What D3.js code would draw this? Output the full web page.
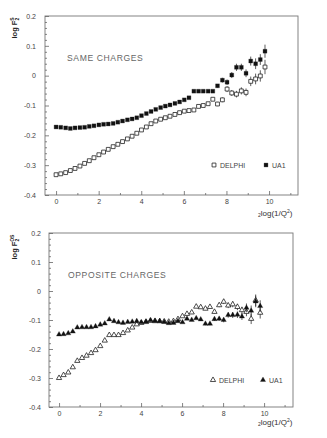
<!DOCTYPE html>
<html><head><meta charset="utf-8">
<script src="https://cdn.jsdelivr.net/npm/d3@7"></script>
<style>
body{margin:0;background:#fff;}
svg{display:block;font-family:"Liberation Sans",Arial,sans-serif;}
.tick text{fill:#444;font-size:7px;}
.tick line{stroke:#666;stroke-width:0.8;}
</style></head>
<body><svg id="c" width="327" height="438"></svg>
<script>
// ---- data ----
const xBins = [0,0.22,0.45,0.67,0.89,1.12,1.34,1.56,1.78,2.01,2.23,2.45,2.68,2.9,3.12,3.35,3.57,3.79,4.01,4.24,4.46,4.68,4.91,5.13,5.35,5.58,5.8,6.02,6.24,6.47,6.69,6.91,7.14,7.36,7.58,7.81,8.03,8.25,8.47,8.7,8.92,9.14,9.37,9.59,9.81];

const sameUA1 = [-0.172,-0.173,-0.175,-0.177,-0.175,-0.174,-0.173,-0.170,-0.168,-0.165,
 -0.163,-0.162,-0.160,-0.156,-0.152,-0.148,-0.145,-0.141,-0.134,-0.127,
 -0.120,-0.113,-0.107,-0.102,-0.098,-0.093,-0.088,-0.081,-0.074,-0.052,
 -0.052,-0.052,-0.052,-0.052,-0.034,-0.015,-0.022,0.002,0.028,0.028,
 0.008,0.049,0.040,0.054,0.082];
const sameUA1Err = [0,0,0,0,0,0,0,0,0,0, 0,0,0,0,0,0,0,0,0,0, 0,0,0,0,0,0,0,0,0,0,
 0,0,0,0.004,0.006,0.008,0.009,0.010,0.012,0.012, 0.013,0.015,0.018,0.018,0.022];
const sameDELPHI = [-0.332,-0.329,-0.325,-0.318,-0.311,-0.303,-0.294,-0.285,-0.275,-0.265,
 -0.256,-0.247,-0.238,-0.230,-0.221,-0.212,-0.203,-0.193,-0.182,-0.172,
 -0.161,-0.152,-0.146,-0.141,-0.136,-0.130,-0.124,-0.119,-0.117,-0.115,
 -0.103,-0.100,-0.094,-0.079,-0.095,-0.081,-0.045,-0.058,-0.062,-0.051,
 -0.056,-0.019,-0.011,-0.001,0.029];
const sameDELPHIErr = [0,0,0,0,0,0,0,0,0,0, 0,0,0,0,0,0,0,0,0,0, 0,0,0,0,0,0,0,0,0,0,
 0,0,0,0.005,0.007,0.008,0.010,0.010,0.011,0.012, 0.013,0.016,0.018,0.019,0.024];

const oppUA1 = [-0.150,-0.149,-0.146,-0.140,-0.126,-0.125,-0.125,-0.125,-0.122,-0.116,
 -0.112,-0.098,-0.104,-0.108,-0.110,-0.107,-0.106,-0.104,-0.108,-0.105,
 -0.101,-0.103,-0.104,-0.107,-0.111,-0.110,-0.104,-0.108,-0.096,-0.100,
 -0.094,-0.098,-0.113,-0.113,-0.097,-0.096,-0.100,-0.083,-0.083,-0.082,
 -0.088,-0.058,-0.068,-0.036,-0.052];
const oppUA1Err = [0,0,0,0,0,0,0,0,0,0, 0,0,0,0,0,0,0,0,0,0, 0,0,0,0,0,0,0,0,0,0,
 0,0,0.005,0.005,0.006,0.007,0.008,0.009,0.010,0.011, 0.012,0.015,0.018,0.020,0.020];
const oppDELPHI = [-0.300,-0.290,-0.281,-0.263,-0.241,-0.231,-0.223,-0.214,-0.204,-0.190,
 -0.171,-0.152,-0.152,-0.152,-0.145,-0.136,-0.126,-0.115,-0.110,-0.107,
 -0.103,-0.104,-0.104,-0.105,-0.106,-0.104,-0.097,-0.087,-0.079,-0.074,
 -0.054,-0.056,-0.061,-0.055,-0.072,-0.049,-0.037,-0.050,-0.046,-0.055,
 -0.066,-0.072,-0.096,-0.032,-0.075];
const oppDELPHIErr = [0,0,0,0,0,0,0,0,0,0, 0,0,0,0,0,0,0,0,0,0, 0,0,0,0,0,0,0,0,0,0,
 0,0,0.005,0.005,0.006,0.007,0.008,0.009,0.010,0.011, 0.012,0.015,0.018,0.020,0.020];

const seriesNames = ["DELPHI","UA1"];
const panelTitles = ["SAME CHARGES","OPPOSITE CHARGES"];
const yTicks = [-0.4,-0.3,-0.2,-0.1,0,0.1,0.2];
const yTickLabels = ["-0.4","-0.3","-0.2","-0.1","0","0.1","0.2"];
const xTicks = [0,2,4,6,8,10];
const xTickLabels = ["0","2","4","6","8","10"];
const xMinor = [1,3,5,7,9,11];
const yMinor = d3.range(-0.38,0.2,0.02).filter(v=>Math.abs(Math.round(v*10)-v*10)>0.01);

// ---- layout ----
const svg = d3.select("#c");
const panels = [
  {x0:45,x1:298,y0:16,y1:195,dom:[-0.52,11.36],title:panelTitles[0],titleXY:[67,61],
   sup:"S",shape:d3.symbolSquare,size:15,
   dA:sameDELPHI,eA:sameDELPHIErr,dB:sameUA1,eB:sameUA1Err,
   leg:[[214,165],[266,165]],ylab:[17,28],xlab:[258,216]},
  {x0:49,x1:293,y0:233,y1:407,dom:[-0.49,11.41],title:panelTitles[1],titleXY:[68,278],
   sup:"OS",shape:d3.symbolTriangle,size:12,
   dA:oppDELPHI,eA:oppDELPHIErr,dB:oppUA1,eB:oppUA1Err,
   leg:[[213,380],[263,380]],ylab:[17,247],xlab:[258,425]}
];

panels.forEach(p=>{
  const x = d3.scaleLinear().domain(p.dom).range([p.x0,p.x1]);
  const y = d3.scaleLinear().domain([-0.4,0.2]).range([p.y1,p.y0]);
  const g = svg.append("g");

  // frame
  g.append("rect").attr("x",p.x0).attr("y",p.y0).attr("width",p.x1-p.x0).attr("height",p.y1-p.y0)
   .attr("fill","none").attr("stroke","#777").attr("stroke-width",0.9);

  // y axis major
  const ya = g.append("g").attr("transform",`translate(${p.x0},0)`)
    .call(d3.axisLeft(y).tickValues(yTicks).tickSize(-4).tickPadding(p.x0===45?9:8)
      .tickFormat((d,i)=>yTickLabels[i]));
  ya.select(".domain").remove();
  const ym = g.append("g").attr("transform",`translate(${p.x0},0)`)
    .call(d3.axisLeft(y).tickValues(yMinor).tickSize(-2).tickFormat(""));
  ym.select(".domain").remove();

  // x axis
  const xa = g.append("g").attr("transform",`translate(0,${p.y1})`)
    .call(d3.axisBottom(x).tickValues(xTicks).tickSize(-4).tickPadding(4)
      .tickFormat((d,i)=>xTickLabels[i]));
  xa.select(".domain").remove();
  const xm = g.append("g").attr("transform",`translate(0,${p.y1})`)
    .call(d3.axisBottom(x).tickValues(xMinor).tickSize(-2).tickFormat(""));
  xm.select(".domain").remove();

  // title
  g.append("text").attr("x",p.titleXY[0]).attr("y",p.titleXY[1]).text(p.title)
   .attr("font-size",8.6).attr("fill","#666").attr("letter-spacing",0.6);

  // y label
  const yl = g.append("text").attr("transform",`translate(${p.ylab[0]},${p.ylab[1]}) rotate(-90)`)
    .attr("text-anchor","middle").attr("font-size",7.5).attr("font-weight","bold").attr("fill","#222");
  yl.append("tspan").text("log F");
  yl.append("tspan").attr("font-size",5).attr("dy",2).text("2");
  yl.append("tspan").attr("font-size",5).attr("dx",-3).attr("dy",-5).text(p.sup);

  // x label
  const xl = g.append("text").attr("x",p.xlab[0]).attr("y",p.xlab[1]).attr("font-size",8).attr("fill","#333");
  xl.append("tspan").attr("font-size",5).attr("dy",1).text("2");
  xl.append("tspan").attr("dy",-1).text("log(1/Q");
  xl.append("tspan").attr("font-size",5).attr("dy",-3).text("2");
  xl.append("tspan").attr("dy",3).text(")");

  const sym = d3.symbol().type(p.shape).size(p.size);
  const drawSeries = (vals, errs, open) => {
    const data = xBins.map((xv,i)=>({x:xv,v:vals[i],e:errs[i]}));
    g.append("g").selectAll("line").data(data.filter(d=>d.e>0)).join("line")
      .attr("x1",d=>x(d.x)).attr("x2",d=>x(d.x))
      .attr("y1",d=>y(d.v-d.e)).attr("y2",d=>y(d.v+d.e))
      .attr("stroke","#333").attr("stroke-width",0.8);
    g.append("g").selectAll("path").data(data).join("path")
      .attr("d",sym).attr("transform",d=>`translate(${x(d.x)},${y(d.v)})`)
      .attr("fill",open?"#fff":"#111").attr("stroke","#222").attr("stroke-width",open?0.8:0.3);
  };
  drawSeries(p.dA,p.eA,true);
  drawSeries(p.dB,p.eB,false);

  // legend
  seriesNames.forEach((name,i)=>{
    const [lx,ly] = p.leg[i];
    g.append("path").attr("d",sym).attr("transform",`translate(${lx},${ly})`)
      .attr("fill",i===0?"#fff":"#111").attr("stroke","#222").attr("stroke-width",i===0?0.8:0.3);
    g.append("text").attr("x",lx+6).attr("y",ly+2.6).attr("font-size",7).attr("fill","#444").text(name);
  });
});
</script></body></html>
